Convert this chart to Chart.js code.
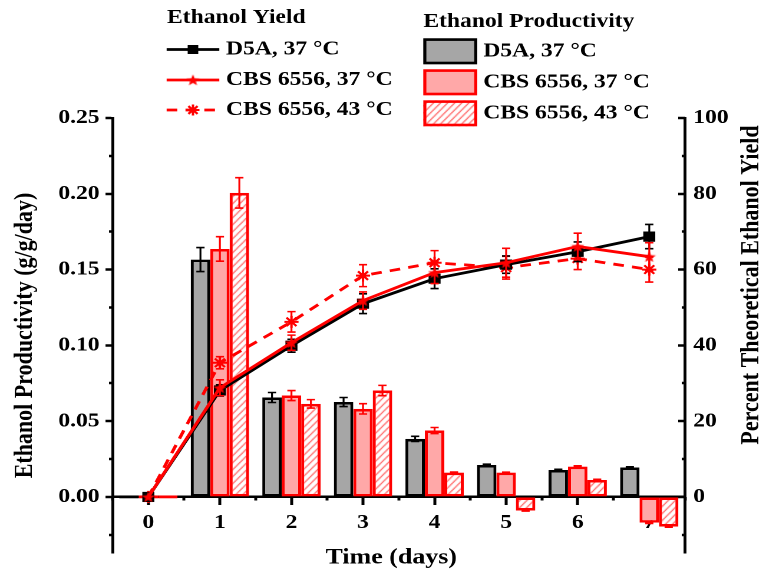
<!DOCTYPE html>
<html>
<head>
<meta charset="utf-8">
<script src="https://cdn.jsdelivr.net/npm/chart.js@4.4.1/dist/chart.umd.min.js"></script>
<style>
  html, body { margin: 0; padding: 0; background: #fff; overflow: hidden; }
  /* the figure is wider than tall in its type, so draw narrow and stretch */
  #wrap { width: 650px; height: 578px; transform: scaleX(1.17846); transform-origin: 0 0; }
</style>
</head>
<body>
<div id="wrap"><canvas id="chart" width="650" height="578"></canvas></div>
<script>
// ---- data ----
const days = ['0', '1', '2', '3', '4', '5', '6', '7'];

// Percent theoretical ethanol yield (right axis)
const yieldD5A   = [0, 28.1, 39.9, 51.0, 57.6, 61.3, 64.7, 68.7];
const yieldCbs37 = [0, 28.8, 40.7, 51.8, 59.2, 61.8, 66.1, 63.4];
const yieldCbs43 = [0, 35.4, 46.2, 58.4, 61.8, 60.5, 62.9, 60.0];
const yieldD5AErr   = [0, 1.5, 1.7, 2.6, 2.6, 2.3, 2.6, 3.2];
const yieldCbs37Err = [0, 2.1, 2.0, 2.3, 2.9, 3.8, 3.5, 3.7];
const yieldCbs43Err = [0, 1.6, 2.7, 2.9, 3.2, 3.0, 2.9, 3.3];

// Ethanol productivity, g/g/day (left axis)
const prodD5A   = [0, 0.1566, 0.0656, 0.0626, 0.0383, 0.0211, 0.0178, 0.0194];
const prodCbs37 = [0, 0.1636, 0.0669, 0.0581, 0.0438, 0.0160, 0.0200, -0.0170];
const prodCbs43 = [0, 0.2006, 0.0614, 0.0702, 0.0160, -0.0090, 0.0112, -0.0196];
const prodD5AErr   = [0, 0.0079, 0.0033, 0.0030, 0.0017, 0.0005, 0.0004, 0.0005];
const prodCbs37Err = [0, 0.0081, 0.0033, 0.0034, 0.0020, 0.0003, 0.0005, 0.0005];
const prodCbs43Err = [0, 0.0100, 0.0028, 0.0034, 0.0004, 0.0003, 0.0004, 0.0004];

const prodTicks = [0, 0.05, 0.10, 0.15, 0.20, 0.25];
const prodMinorTicks = [-0.025, 0.025, 0.075, 0.125, 0.175, 0.225];
const yieldTicks = [0, 20, 40, 60, 80, 100];
const yieldMinorTicks = [-10, 10, 30, 50, 70, 90];
const prodMin = -0.037, prodMax = 0.25;
const yieldMin = -14.8, yieldMax = 100;

const leftTitle = 'Ethanol Productivity (g/g/day)';
const rightTitle = 'Percent Theoretical Ethanol Yield';
const xTitle = 'Time (days)';
const yieldLegendTitle = 'Ethanol Yield';
const prodLegendTitle = 'Ethanol Productivity';

// ---- styles ----
const RED = '#ff0000';
const PINK = '#ffa8a8';
const GRAY = '#a6a6a6';
const FONT = '"Liberation Serif", "Times New Roman", serif';

Chart.defaults.font.family = FONT;
Chart.defaults.font.weight = 'bold';
Chart.defaults.font.size = 20;
Chart.defaults.color = '#000';

const canvas = document.getElementById('chart');

function makeStar(size, color) {
    const c = document.createElement('canvas');
    c.width = size;
    c.height = size;
    const g = c.getContext('2d');
    const R = size / 2, r = R * 0.42;
    g.beginPath();
    for (let i = 0; i < 10; i++) {
        const rad = i % 2 ? r : R;
        const a = -Math.PI / 2 + i * Math.PI / 5;
        g.lineTo(size / 2 + rad * Math.cos(a), size / 2 + 0.5 + rad * Math.sin(a));
    }
    g.closePath();
    g.fillStyle = color;
    g.fill();
    return c;
}

function makeHatch() {
    const w = 6, h = 7;
    const c = document.createElement('canvas');
    c.width = w;
    c.height = h;
    const g = c.getContext('2d');
    g.fillStyle = '#fff';
    g.fillRect(0, 0, w, h);
    g.strokeStyle = RED;
    g.lineWidth = 0.9;
    g.beginPath();
    g.moveTo(0, h); g.lineTo(w, 0);
    g.moveTo(-w, h); g.lineTo(0, 0);
    g.moveTo(w, h); g.lineTo(2 * w, 0);
    g.stroke();
    return canvas.getContext('2d').createPattern(c, 'repeat');
}

const starMark = makeStar(12, RED);
const hatch = makeHatch();

// error values per dataset index
const errorSets = [yieldCbs37Err, yieldD5AErr, yieldCbs43Err, prodD5AErr, prodCbs37Err, prodCbs43Err];
const errorColors = [RED, '#000', RED, '#000', RED, RED];

const errorBars = {
    id: 'errorBars',
    afterDatasetDraw(chart, args) {
        const errs = errorSets[args.index];
        if (!errs) return;
        const meta = args.meta;
        const scale = chart.scales[meta.yAxisID];
        const values = chart.data.datasets[args.index].data;
        const ctx = chart.ctx;
        ctx.save();
        ctx.strokeStyle = errorColors[args.index];
        ctx.lineWidth = 1.6;
        ctx.setLineDash([]);
        meta.data.forEach((el, i) => {
            const e = errs[i];
            if (!e) return;
            const top = scale.getPixelForValue(values[i] + e);
            const bot = scale.getPixelForValue(values[i] - e);
            const x = el.x, cap = 3.5;
            ctx.beginPath();
            ctx.moveTo(x, top); ctx.lineTo(x, bot);
            ctx.moveTo(x - cap, top); ctx.lineTo(x + cap, top);
            ctx.moveTo(x - cap, bot); ctx.lineTo(x + cap, bot);
            ctx.stroke();
        });
        ctx.restore();
    }
};

function drawAsterisk(ctx, x, y, r) {
    ctx.beginPath();
    for (let k = 0; k < 4; k++) {
        const a = k * Math.PI / 4;
        ctx.moveTo(x - r * Math.cos(a), y - r * Math.sin(a));
        ctx.lineTo(x + r * Math.cos(a), y + r * Math.sin(a));
    }
    ctx.stroke();
}

// titles that Chart.js cannot place this way, plus the two legend blocks
const figureText = {
    id: 'figureText',
    afterDraw(chart) {
        const ctx = chart.ctx;
        const ds = chart.data.datasets;
        ctx.save();
        ctx.fillStyle = '#000';
        ctx.textBaseline = 'middle';

        ctx.font = 'bold 22px ' + FONT;
        ctx.textAlign = 'center';
        ctx.fillText(xTitle, 332, 558);
        ctx.save();
        ctx.translate(638, 285);
        ctx.rotate(-Math.PI / 2);
        ctx.fillText(rightTitle, 0, 0);
        ctx.restore();

        ctx.font = 'bold 20px ' + FONT;
        ctx.textAlign = 'left';

        // Ethanol Yield legend
        ctx.fillText(yieldLegendTitle, 141.7, 18);
        const rowsY = [49.5, 80, 110];
        const x0 = 141.4, x1 = 186.1, xm = (x0 + x1) / 2;
        const lineOrder = [1, 0, 2];
        lineOrder.forEach((di, r) => {
            const y = rowsY[r];
            const d = ds[di];
            ctx.strokeStyle = d.borderColor;
            ctx.lineWidth = 2.8;
            ctx.setLineDash(d.borderDash || []);
            ctx.beginPath();
            ctx.moveTo(x0, y); ctx.lineTo(x1, y);
            ctx.stroke();
            ctx.setLineDash([]);
            if (d.pointStyle === 'rect') {
                ctx.fillStyle = '#000';
                ctx.fillRect(xm - 4.5, y - 4.5, 9, 9);
            } else if (d.pointStyle === 'star') {
                ctx.lineWidth = 2;
                drawAsterisk(ctx, xm, y, 5.5);
            } else {
                ctx.drawImage(d.pointStyle, xm - 6, y - 6, 12, 12);
            }
            ctx.fillStyle = '#000';
            ctx.fillText(d.label, 191.8, y);
        });

        // Ethanol Productivity legend
        ctx.fillText(prodLegendTitle, 359.2, 21.7);
        const boxTops = [38.3, 69.3, 100.3];
        [3, 4, 5].forEach((di, r) => {
            const d = ds[di];
            const t = boxTops[r];
            ctx.fillStyle = d.backgroundColor;
            ctx.fillRect(359.2, t, 45.8, 26);
            ctx.strokeStyle = d.borderColor;
            ctx.lineWidth = 2.6;
            ctx.strokeRect(360.5, t + 1.3, 43.2, 23.4);
            ctx.fillStyle = '#000';
            ctx.fillText(d.label, 410.1, t + 13);
        });
        ctx.restore();
    }
};

const fixTicks = list => scale => { scale.ticks = list.map(v => ({ value: v })); };
const tickGrid = len => ({
    display: true, drawOnChartArea: false, drawTicks: true,
    tickLength: len, tickWidth: 2.5, tickColor: '#000'
});

new Chart(canvas, {
    type: 'bar',
    data: {
        labels: days,
        datasets: [
            {
                type: 'line', label: 'CBS 6556, 37 °C', data: yieldCbs37,
                xAxisID: 'x', yAxisID: 'y2', order: 0,
                borderColor: RED, borderWidth: 2.8, tension: 0,
                pointStyle: starMark, pointRadius: 6
            },
            {
                type: 'line', label: 'D5A, 37 °C', data: yieldD5A,
                xAxisID: 'x', yAxisID: 'y2', order: 1,
                borderColor: '#000', borderWidth: 2.8, tension: 0,
                pointStyle: 'rect', pointRadius: 6.5,
                pointBackgroundColor: '#000', pointBorderColor: '#000', pointBorderWidth: 1
            },
            {
                type: 'line', label: 'CBS 6556, 43 °C', data: yieldCbs43,
                xAxisID: 'x', yAxisID: 'y2', order: 2,
                borderColor: RED, borderWidth: 2.8, borderDash: [9, 7], tension: 0,
                pointStyle: 'star', pointRadius: 6,
                pointBorderColor: RED, pointBackgroundColor: RED, pointBorderWidth: 2
            },
            {
                label: 'D5A, 37 °C', data: prodD5A, xAxisID: 'x', yAxisID: 'y', order: 3,
                backgroundColor: GRAY, borderColor: '#000', borderWidth: 2.6,
                borderSkipped: false, minBarLength: 3
            },
            {
                label: 'CBS 6556, 37 °C', data: prodCbs37, xAxisID: 'x', yAxisID: 'y', order: 3,
                backgroundColor: PINK, borderColor: RED, borderWidth: 2.6,
                borderSkipped: false, minBarLength: 3
            },
            {
                label: 'CBS 6556, 43 °C', data: prodCbs43, xAxisID: 'x', yAxisID: 'y', order: 3,
                backgroundColor: hatch, borderColor: RED, borderWidth: 2.6,
                borderSkipped: false, minBarLength: 3
            }
        ]
    },
    options: {
        responsive: false,
        devicePixelRatio: 2,
        animation: false,
        layout: { padding: { top: 118, bottom: 25, left: 0, right: 0 } },
        datasets: { bar: { categoryPercentage: 0.815, barPercentage: 1 } },
        plugins: { legend: { display: false }, tooltip: { enabled: false } },
        scales: {
            x: {
                type: 'category', axis: 'x', position: { y: 0 }, offset: true,
                grid: { ...tickGrid(7), offset: false },
                border: { display: true, color: '#000', width: 2.5 },
                ticks: { padding: 7, maxRotation: 0, autoSkip: false },
                afterFit: s => { s.height = 0; }
            },
            xMinor: {
                type: 'category', axis: 'x', position: { y: 0 }, offset: true,
                grid: { ...tickGrid(3.5), offset: true },
                border: { display: false },
                ticks: { display: false },
                afterFit: s => { s.height = 0; }
            },
            y: {
                type: 'linear', position: 'left', min: prodMin, max: prodMax, bounds: 'data',
                afterBuildTicks: fixTicks(prodTicks),
                grid: tickGrid(6),
                border: { display: true, color: '#000', width: 2.5 },
                ticks: { padding: 5, callback: v => v.toFixed(2) },
                title: {
                    display: true, text: leftTitle, color: '#000',
                    font: { size: 22, weight: 'bold' }, padding: { top: 8, bottom: 0 }
                },
                afterFit: s => { s.width = 95.5; }
            },
            yMinor: {
                type: 'linear', axis: 'y', position: { x: -0.5 }, min: prodMin, max: prodMax, bounds: 'data',
                afterBuildTicks: fixTicks(prodMinorTicks),
                grid: tickGrid(3),
                border: { display: false },
                ticks: { display: false },
                afterFit: s => { s.width = 0; }
            },
            y2: {
                type: 'linear', position: 'right', min: yieldMin, max: yieldMax, bounds: 'data',
                afterBuildTicks: fixTicks(yieldTicks),
                grid: { display: false, drawTicks: false },
                border: { display: true, color: '#000', width: 2.5 },
                ticks: { padding: 7 },
                afterFit: s => { s.width = 68.7; }
            },
            y2Major: {
                type: 'linear', axis: 'y', position: { x: 7.5 }, min: yieldMin, max: yieldMax, bounds: 'data',
                afterBuildTicks: fixTicks(yieldTicks),
                grid: tickGrid(6),
                border: { display: false },
                ticks: { display: false },
                afterFit: s => { s.width = 0; }
            },
            y2Minor: {
                type: 'linear', axis: 'y', position: { x: 7.5 }, min: yieldMin, max: yieldMax, bounds: 'data',
                afterBuildTicks: fixTicks(yieldMinorTicks),
                grid: tickGrid(3),
                border: { display: false },
                ticks: { display: false },
                afterFit: s => { s.width = 0; }
            }
        }
    },
    plugins: [errorBars, figureText]
});
</script>
</body>
</html>
